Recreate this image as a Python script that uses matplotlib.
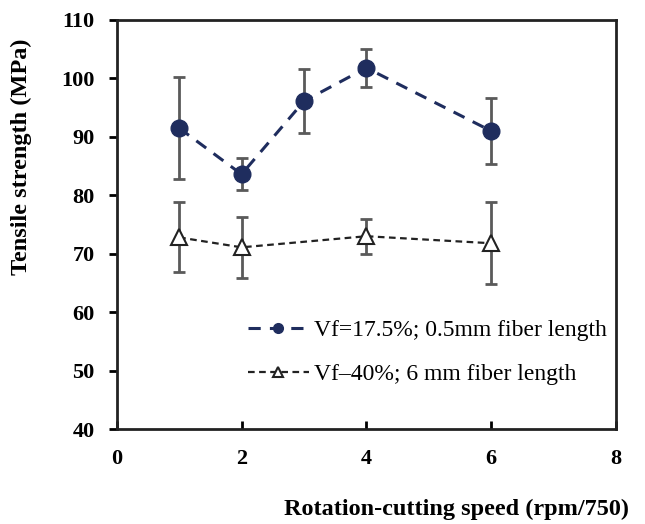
import matplotlib
matplotlib.use("Agg")
import matplotlib.pyplot as plt

# data
speed_a = [1, 2, 3, 4, 6]
strength_a = [91.5, 83.6, 96.1, 101.8, 91.0]
err_a = [8.7, 2.7, 5.5, 3.2, 5.7]

speed_b = [1, 2, 4, 6]
strength_b = [72.8, 71.1, 73.0, 71.8]
err_b = [6.0, 5.2, 3.0, 7.0]

label_a = "Vf=17.5%; 0.5mm fiber length"
label_b = "Vf\u201340%; 6 mm fiber length"

xticks = [0, 2, 4, 6, 8]
yticks = [40, 50, 60, 70, 80, 90, 100, 110]

plt.rcParams["font.family"] = ["Liberation Serif", "DejaVu Serif"]

fig = plt.figure(figsize=(6.45, 5.24), dpi=100)
ax = fig.add_axes([0.181, 0.181, 0.774, 0.781])

ax.errorbar(speed_a, strength_a, yerr=err_a, fmt="none", ecolor="#5a5a5a",
            elinewidth=2, capsize=4.5, capthick=2, zorder=1)
ax.errorbar(speed_b, strength_b, yerr=err_b, fmt="none", ecolor="#5a5a5a",
            elinewidth=2, capsize=4.5, capthick=2, zorder=1)

ax.plot(speed_a, strength_a, linestyle=(0, (4, 3)), color="#1f2d5e", lw=2.2,
        marker="o", markersize=12, markerfacecolor="#1f2d5e",
        markeredgecolor="#1f2d5e", label=label_a, zorder=3)
ax.plot(speed_b, strength_b, linestyle=(0, (3, 2)), color="#222222", lw=1.6,
        marker="^", markersize=11, markerfacecolor="white",
        markeredgecolor="#222222", markeredgewidth=1.5, label=label_b, zorder=3)

ax.set_xlim(0, 8)
ax.set_ylim(40, 110)
ax.set_xticks(xticks)
ax.set_yticks(yticks)
ax.tick_params(axis="x", direction="in", length=6, width=2, pad=14,
               labelsize=16)
ax.tick_params(axis="y", direction="out", length=6, width=2, pad=10,
               labelsize=16)
for lab in ax.get_xticklabels() + ax.get_yticklabels():
    lab.set_fontweight("bold")
for sp in ax.spines.values():
    sp.set_linewidth(2)
    sp.set_color("#222222")

ax.set_ylabel("Tensile strength (MPa)", fontsize=17.5, fontweight="bold")
ax.yaxis.set_label_coords(-0.17, 0.665)
ax.set_xlabel("Rotation-cutting speed (rpm/750)", fontsize=17.5,
              fontweight="bold")
ax.xaxis.set_label_coords(0.68, -0.17)

leg = ax.legend(loc="lower right", bbox_to_anchor=(1.0, 0.085), frameon=False,
                fontsize=17, handlelength=2.6, labelspacing=0.95,
                handletextpad=0.2, borderaxespad=0)
for h in leg.legend_handles:
    h.set_markersize(7)

fig.savefig("out.png", dpi=100)
